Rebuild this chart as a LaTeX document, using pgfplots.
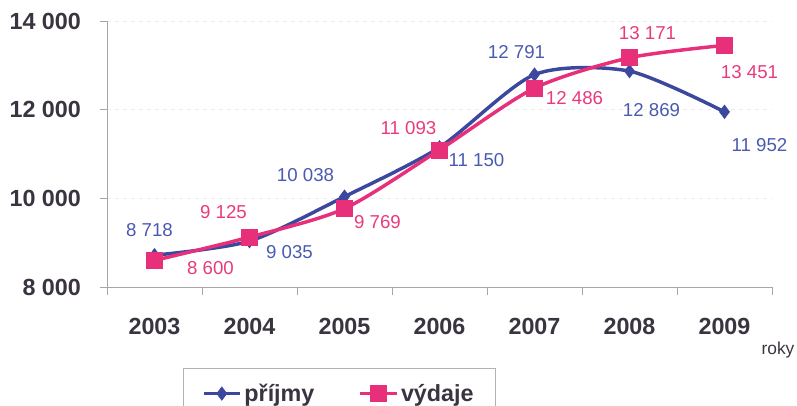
\documentclass[border=0pt]{standalone}
\usepackage{fontspec}
\setmainfont{Liberation Sans}
\usepackage{pgfplots}
\pgfplotsset{compat=1.18}
\definecolor{pblue}{HTML}{3C489E}
\definecolor{pbluet}{HTML}{4A5AB0}
\definecolor{ppink}{HTML}{E8307A}
\definecolor{ppinkt}{HTML}{E83A7C}
\definecolor{tickc}{HTML}{3A3440}
\begin{document}
\begin{tikzpicture}
\begin{axis}[
  scale only axis,
  width=498.75pt, height=199.5pt,
  xmin=-0.5, xmax=6.5,
  ymin=8000, ymax=14000,
  scaled y ticks=false,
  axis x line=bottom, axis y line=left,
  axis line style={-, draw=gray!70, line width=0.6pt},
  xtick={0,...,6},
  xticklabels={2003,2004,2005,2006,2007,2008,2009},
  major x tick style={draw=none},
  minor xtick={-0.5,0.5,...,6.5},
  minor x tick style={draw=gray!70, line width=0.6pt},
  minor tick length=6pt,
  ytick={8000,10000,12000,14000},
  yticklabels={8 000,10 000,12 000,14 000},
  y tick style={draw=gray!70, line width=0.6pt},
  major tick length=5pt,
  tick align=outside,
  ymajorgrids,
  grid style={draw=gray!15, dashed, line width=0.5pt},
  ticklabel style={font=\fontsize{17.5}{20}\selectfont\bfseries, text=tickc},
  xticklabel style={yshift=-15pt},
  yticklabel style={xshift=-11pt},
  clip=false,
  legend columns=2,
  legend style={at={(rel axis cs:0.114,-0.305)}, anchor=north west,
    draw=gray!60, line width=0.6pt,
    font=\fontsize{17.5}{20}\selectfont\bfseries, text=tickc,
    inner xsep=14pt, inner ysep=9.5pt,
    /tikz/every even column/.append style={column sep=31pt}},
  legend image code/.code={
    \draw[#1, mark repeat=2, mark phase=2] plot coordinates {(0cm,0cm) (0.48cm,0cm) (0.96cm,0cm)};},
]
\addplot[pblue, line width=2.6pt, smooth, tension=0.45, mark=diamond*, mark size=5pt, mark options={solid, fill=pblue, line width=0.5pt}]
  coordinates {(0,8718) (1,9035) (2,10038) (3,11150) (4,12791) (5,12869) (6,11952)};
\addlegendentry{příjmy}
\addplot[ppink, line width=2.6pt, smooth, tension=0.45, mark=square*, mark size=6pt, mark options={solid, fill=ppink, line width=0.5pt}]
  coordinates {(0,8600) (1,9125) (2,9769) (3,11093) (4,12486) (5,13171) (6,13451)};
\addlegendentry{výdaje}

\begin{scope}[every node/.style={font=\fontsize{14}{16}\selectfont}]
\node[text=pbluet] at (axis cs:0,8718) [xshift=-3.75pt, yshift=18.75pt] {8 718};
\node[text=pbluet] at (axis cs:1,9035) [xshift=30pt, yshift=-8.25pt] {9 035};
\node[text=pbluet] at (axis cs:2,10038) [xshift=-29.25pt, yshift=16.5pt] {10 038};
\node[text=pbluet] at (axis cs:3,11150) [xshift=27.75pt, yshift=-9.75pt] {11 150};
\node[text=pbluet] at (axis cs:4,12791) [xshift=-13.5pt, yshift=17.25pt] {12 791};
\node[text=pbluet] at (axis cs:5,12869) [xshift=16.5pt, yshift=-29.25pt] {12 869};
\node[text=pbluet] at (axis cs:6,11952) [xshift=26.25pt, yshift=-24.75pt] {11 952};
\node[text=ppinkt] at (axis cs:0,8600) [xshift=42pt, yshift=-6pt] {8 600};
\node[text=ppinkt] at (axis cs:1,9125) [xshift=-19.5pt, yshift=18.75pt] {9 125};
\node[text=ppinkt] at (axis cs:2,9769) [xshift=24.75pt, yshift=-9.75pt] {9 769};
\node[text=ppinkt] at (axis cs:3,11093) [xshift=-23.25pt, yshift=16.5pt] {11 093};
\node[text=ppinkt] at (axis cs:4,12486) [xshift=30pt, yshift=-7.5pt] {12 486};
\node[text=ppinkt] at (axis cs:5,13171) [xshift=13.5pt, yshift=18.75pt] {13 171};
\node[text=ppinkt] at (axis cs:6,13451) [xshift=18.75pt, yshift=-20.25pt] {13 451};
\end{scope}
\node[font=\fontsize{13}{15}\selectfont, text=tickc] at (rel axis cs:1.009,-0.237) {roky};
\end{axis}
\pgfresetboundingbox
\path[use as bounding box] (-80.25pt,-88.5pt) rectangle (517.5pt,215.25pt);
\end{tikzpicture}
\end{document}
